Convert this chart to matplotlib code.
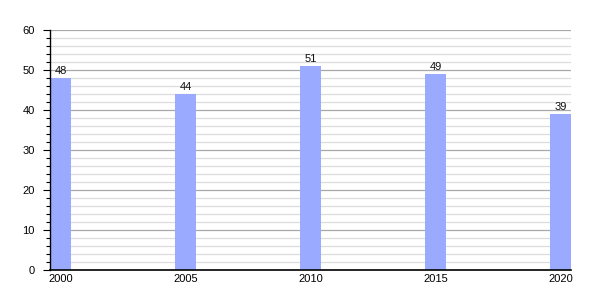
import matplotlib
matplotlib.use("Agg")
import matplotlib.pyplot as plt
from matplotlib.ticker import MultipleLocator

plt.rcParams['font.family'] = ['Liberation Sans', 'DejaVu Sans']

years = [2000, 2005, 2010, 2015, 2020]
values = [48, 44, 51, 49, 39]

fig = plt.figure(figsize=(6, 3), dpi=100)
ax = fig.add_axes([50/600, 30/300, 521/600, 240/300])

ax.set_ylim(0, 60)
ax.set_xlim(1999.58, 2020.42)
ax.yaxis.set_major_locator(MultipleLocator(10))
ax.yaxis.set_minor_locator(MultipleLocator(2))
ax.grid(axis='y', which='major', color='#a8a8a8', linewidth=0.9, zorder=0)
ax.grid(axis='y', which='minor', color='#dcdcdc', linewidth=0.9, zorder=0)
ax.set_axisbelow(True)

bars = ax.bar(years, values, width=0.84, color='#9aabff', zorder=2)
for x, v in zip(years, values):
    ax.text(x, v + 0.4, str(v), ha='center', va='bottom', fontsize=8, color='#111111')

ax.set_xticks(years)
ax.set_xticklabels([str(y) for y in years])
ax.tick_params(axis='x', length=0, labelsize=8, pad=3)
ax.tick_params(axis='y', which='major', length=5, labelsize=8, width=0.8, pad=6)
ax.tick_params(axis='y', which='minor', length=3, width=0.8)
for s in ['top', 'right']:
    ax.spines[s].set_visible(False)
ax.spines['left'].set_linewidth(1.0)
ax.spines['bottom'].set_linewidth(1.2)

fig.savefig('out.png', dpi=100)
